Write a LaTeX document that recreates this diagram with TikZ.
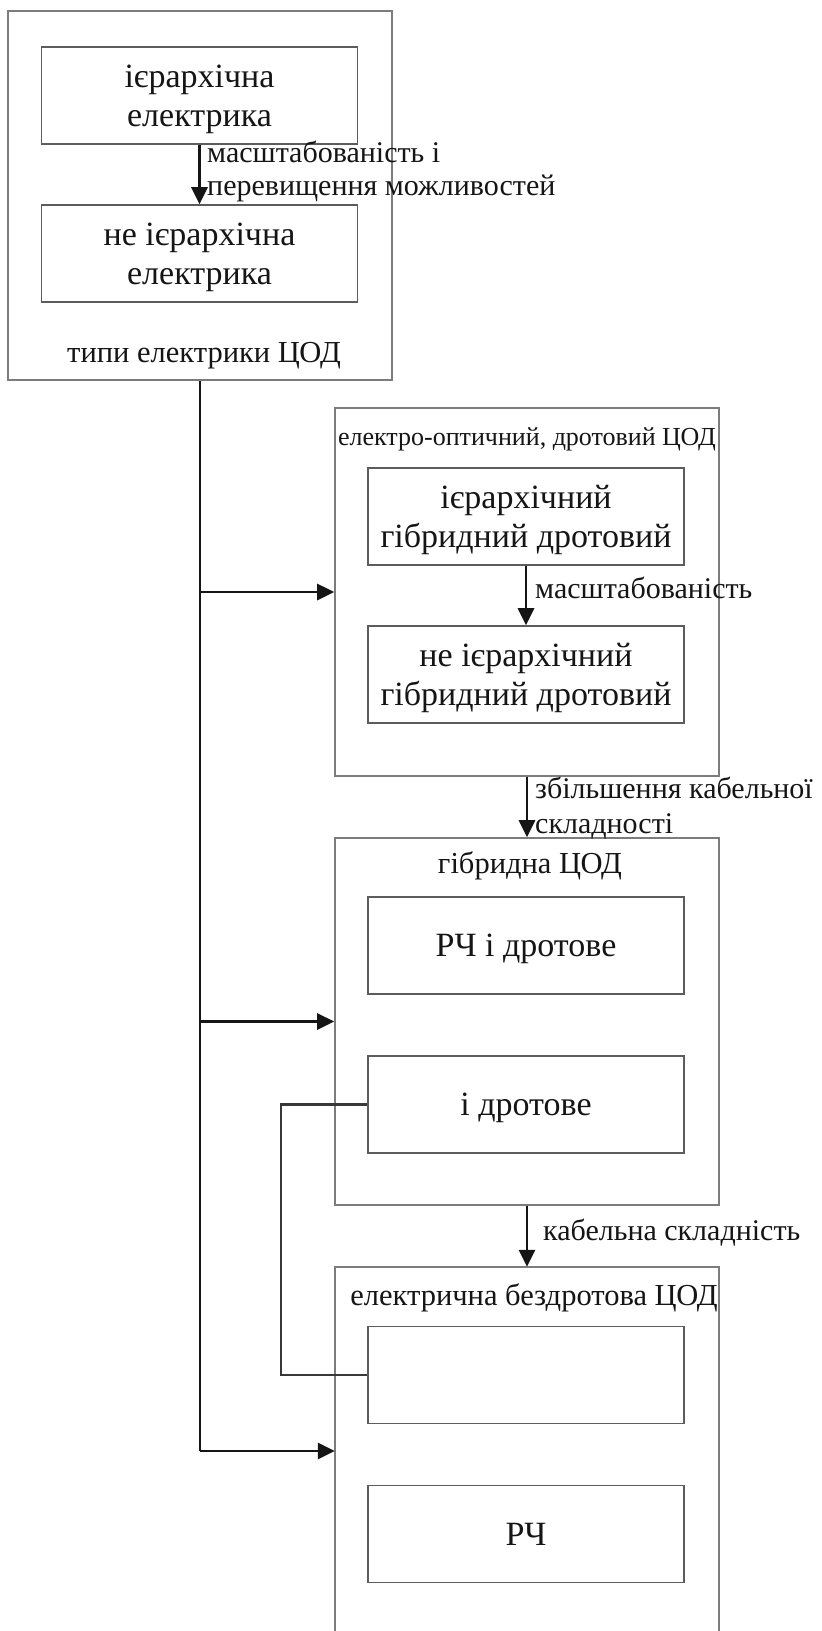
\documentclass[tikz,border=0pt]{standalone}
\usepackage{fontspec}
\setmainfont{Liberation Serif}
\usetikzlibrary{arrows.meta}
\definecolor{frameline}{HTML}{7C7C7C}
\definecolor{boxline}{HTML}{5C5C5C}
\definecolor{ink}{HTML}{151515}
\begin{document}
\begin{tikzpicture}[x=1pt,y=-1pt,
  group/.style={draw=frameline,line width=1.6pt,minimum width=384pt,inner sep=0pt},
  block/.style={draw=boxline,line width=1.6pt,minimum width=316pt,minimum height=97pt,
    inner sep=0pt,text depth=0pt,align=center,text=ink,font=\fontsize{34}{39}\selectfont},
  title/.style={text=ink,inner sep=0pt,font=\fontsize{30.5}{33}\selectfont},
  note/.style={text=ink,inner sep=0pt,align=left,anchor=base west,font=\fontsize{30}{34}\selectfont},
  flow/.style={draw=ink,line width=2.8pt,-{Triangle[length=17pt,width=16pt]}},
  link/.style={draw=ink!85,line width=2.2pt}]
\useasboundingbox[fill=white] (0,0) rectangle (822,1631);

% electrical types
\node[group,minimum height=369pt] (A) at (200,195.5) {};
\node[block] (A1) at (199.5,95.5) {ієрархічна\\електрика};
\node[block] (A2) at (199.5,253.5) {не ієрархічна\\електрика};
\node[title,anchor=base] (At) at (204,362) {типи електрики ЦОД};
\draw[flow] (A1) -- (A2);
% a multi-line node's base is its last baseline
\node[note,font=\fontsize{30}{33}\selectfont] (Al) at (207,195) {масштабованість і\\перевищення можливостей};

% electro-optical wired
\node[group,minimum height=368pt] (B) at (527,592) {};
\node[title,anchor=base,font=\fontsize{26}{30}\selectfont] (Bt) at (527,445) {електро-оптичний, дротовий ЦОД};
\node[block] (B1) at (526,516.5) {ієрархічний\\гібридний дротовий};
\node[block] (B2) at (526,674.5) {не ієрархічний\\гібридний дротовий};
\draw[flow] (B1) -- (B2);
\node[note] (Bl) at (535,598) {масштабованість};

% hybrid
\node[group,minimum height=367pt] (C) at (527,1021.5) {};
\node[title,anchor=base] (Ct) at (530,873) {гібридна ЦОД};
\node[block] (C1) at (526,945.5) {РЧ і дротове};
\node[block] (C2) at (526,1104.5) {і дротове};
\draw[flow] (B) -- (C);
\node[note,font=\fontsize{30}{35}\selectfont] (BCl) at (535,833) {збільшення кабельної\\складності};

% electrical wireless (runs past the page bottom)
\node[inner sep=0pt,minimum width=384pt,minimum height=400pt] (D) at (527,1467) {};
\draw[frameline,line width=1.6pt] (D.south west) -- (D.north west) -- (D.north east) -- (D.south east);
\node[title,anchor=base] (Dt) at (534,1305) {електрична бездротова ЦОД};
\node[block] (D1) at (526,1375) {};
\node[block] (D2) at (526,1534) {РЧ};
\draw[flow] (C) -- (D);
\node[note] (CDl) at (543,1240) {кабельна складність};

% trunk from the electrical types to the other groups
\coordinate (j1) at (200,592);
\coordinate (j2) at (200,1021.5);
\coordinate (j3) at (200,1451);
\draw[ink,line width=2.8pt] (A.south) -- (j3);
\draw[flow] (j1) -- (B.west);
\draw[flow] (j2) -- (C.west);
\draw[flow] (j3) -- (j3 -| D.west);

% wired part shared with the wireless group
\draw[link] (C2.west) -- (281,1104.5) |- (D1.west);
\end{tikzpicture}
\end{document}
